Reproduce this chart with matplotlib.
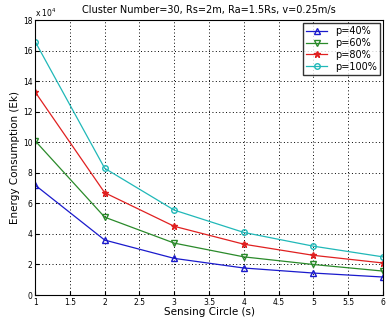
import matplotlib.pyplot as plt

x = [1, 2, 3, 4, 5, 6]
p40 = [7.2, 3.6, 2.4, 1.77, 1.44, 1.18]
p60 = [10.1, 5.1, 3.4, 2.5, 2.0, 1.57]
p80 = [13.3, 6.7, 4.5, 3.33, 2.6, 2.1]
p100 = [16.6, 8.3, 5.56, 4.1, 3.2, 2.5]
labels = ['p=40%', 'p=60%', 'p=80%', 'p=100%']

fig = plt.figure(figsize=(3.86, 3.2), dpi=100)
ax = fig.add_axes([0.091, 0.078, 0.901, 0.859])

ax.plot(x, p40, color='#1a1acc', marker='^', ms=4, mfc='none', lw=0.9, label=labels[0])
ax.plot(x, p60, color='#2a8a2a', marker='v', ms=4, mfc='none', lw=0.9, label=labels[1])
ax.plot(x, p80, color='#e02020', marker='*', ms=5, lw=0.9, label=labels[2])
ax.plot(x, p100, color='#20b8b8', marker='o', ms=4, mfc='none', lw=0.9, label=labels[3])

ax.set_xlim(1, 6)
ax.set_ylim(0, 18)
ax.set_xticks([1, 1.5, 2, 2.5, 3, 3.5, 4, 4.5, 5, 5.5, 6])
ax.set_xticklabels(['1', '1.5', '2', '2.5', '3', '3.5', '4', '4.5', '5', '5.5', '6'])
ax.set_yticks(range(0, 19, 2))
ax.tick_params(labelsize=5.5, direction='in', length=3, pad=2)
ax.grid(True, color='black', linestyle=(0, (1, 2.5)), lw=0.7)
ax.text(0.0, 1.005, r'x 10$^4$', transform=ax.transAxes, fontsize=5.5, va='bottom')

ax.set_title('Cluster Number=30, Rs=2m, Ra=1.5Rs, v=0.25m/s', fontsize=7, pad=5)
ax.set_xlabel('Sensing Circle (s)', fontsize=7.5, labelpad=0)
ax.set_ylabel('Energy Consumption (Ek)', fontsize=7.5, labelpad=2)

ax.legend(loc='upper right', fontsize=7, frameon=True, fancybox=False, edgecolor='black',
          borderpad=0.3, labelspacing=0.2, handlelength=2.2, borderaxespad=0.3)

fig.savefig('out.png', dpi=100)
